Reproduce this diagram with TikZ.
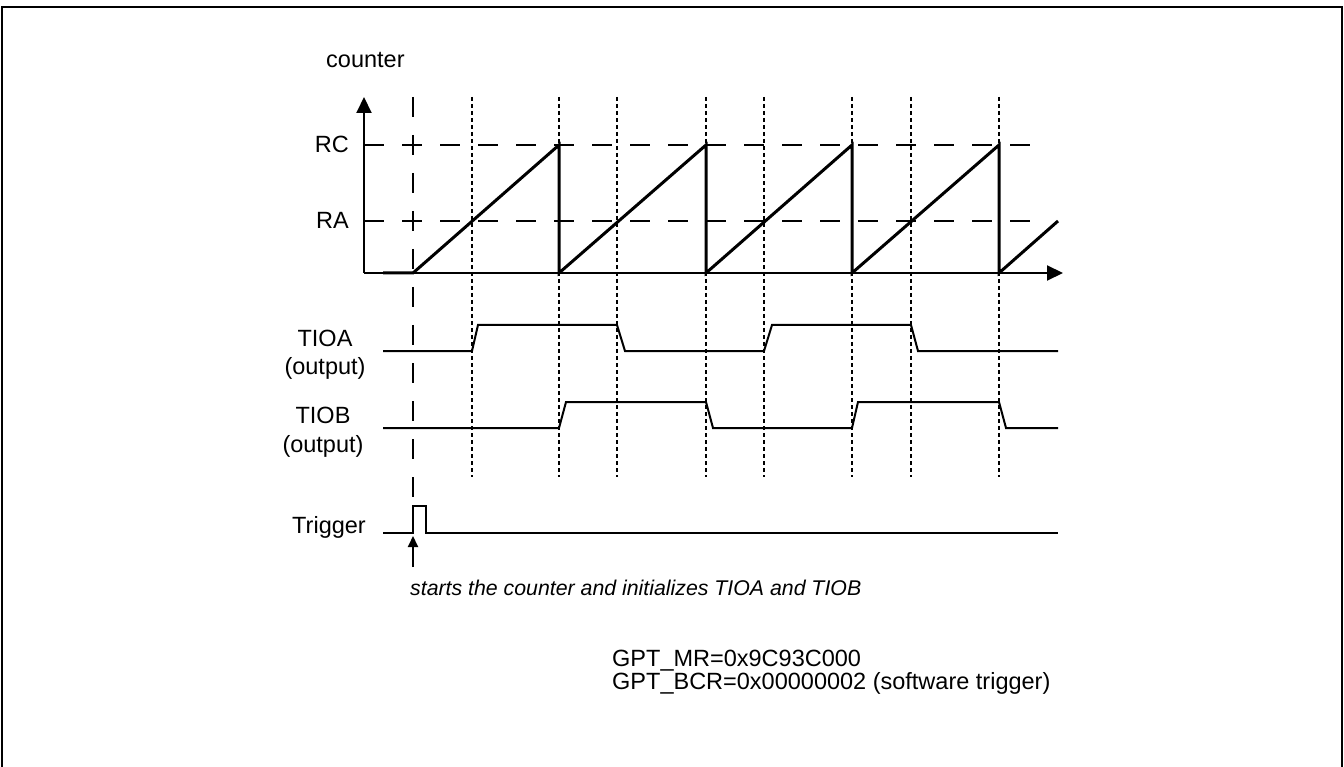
\documentclass[tikz,border=0pt]{standalone}
\usepackage{fontspec}
\setmainfont{Liberation Sans}
\usetikzlibrary{arrows.meta}
\tikzset{
  lbl/.style={inner sep=0pt, font=\fontsize{23.5}{23}\selectfont},
  notelbl/.style={inner sep=0pt, font=\fontsize{21.3}{23}\selectfont\itshape},
  ramp/.style={line width=3pt, line join=miter},
  axis/.style={line width=2pt},
  sig/.style={line width=2pt, line join=miter},
  longdash/.style={line width=1.6pt, dash pattern=on 20pt off 18pt},
  shortdot/.style={line width=1.5pt, dash pattern=on 4pt off 3pt},
  frame/.style={line width=2pt}
}
\begin{document}
\begin{tikzpicture}[x=1pt,y=-1pt]
\useasboundingbox (0,0) rectangle (1344,767);
% frame
\draw[frame] (2,767) -- (2,7) -- (1342,7) -- (1342,767);

% key coordinates
\coordinate (O) at (364,273);
\coordinate (ytop) at (364,97);
\coordinate (xend) at (1063,273);

% dotted event lines
\foreach \x/\n in {472/a1,559/b1,617/a2,706/b2,764/a3,852/b3,911/a4,999/b4}{
  \coordinate (dt\n) at (\x,97);
  \coordinate (db\n) at (\x,477);
  \draw[shortdot] (dt\n) -- (db\n);
}

% trigger dashed line
\coordinate (trigtop) at (413,97);
\coordinate (trigbot) at (413,506);
\draw[longdash] (trigtop) -- (trigbot);

% RC / RA levels
\coordinate (rcL) at (364,145); \coordinate (rcR) at (1048,145);
\coordinate (raL) at (364,221); \coordinate (raR) at (1048,221);
\draw[longdash] (rcL) -- (rcR);
\draw[longdash] (raL) -- (raR);

% axes
\draw[axis,-{Triangle[length=16pt,width=15pt]}] (O) -- (ytop);
\draw[axis,-{Triangle[length=16pt,width=15pt]}] (O) -- (xend);

% counter ramp
\draw[ramp] (383,273) -- (413,273) -- (559,145) -- (559,273) -- (706,145) -- (706,273)
  -- (852,145) -- (852,273) -- (999,145) -- (999,273) -- (1058,221);

% TIOA
\draw[sig] (383,351) -- (472,351) -- (478,325) -- (617,325) -- (625,351) -- (764,351)
  -- (772,325) -- (911,325) -- (918,351) -- (1058,351);
% TIOB
\draw[sig] (383,428) -- (559,428) -- (566,402) -- (706,402) -- (713,428) -- (852,428)
  -- (858,402) -- (999,402) -- (1006,428) -- (1058,428);
% Trigger
\coordinate (trigedge) at (413,536);
\draw[sig] (383,533) -- (413,533) -- (413,506) -- (426,506) -- (426,533) -- (1058,533);
\coordinate (arrtail) at (413,567);
\draw[line width=2pt,-{Triangle[length=11pt,width=10pt]}] (arrtail) -- (trigedge);

% labels
\node[lbl,anchor=base west] (counter) at (326,68) {counter};
\node[lbl,anchor=base east] (rc) at (349,153) {RC};
\node[lbl,anchor=base east] (ra) at (349,229) {RA};
\node[lbl,anchor=base] (tioa) at (325,346) {TIOA};
\node[lbl,anchor=base] (tioaout) at (325,374) {(output)};
\node[lbl,anchor=base] (tiob) at (323,423) {TIOB};
\node[lbl,anchor=base] (tiobout) at (323,452) {(output)};
\node[lbl,anchor=base east] (trig) at (366,533) {Trigger};
\node[notelbl,anchor=base west] (note) at (410,595)
  {starts the counter and initializes TIOA and TIOB};
\node[lbl,anchor=base west] (mr) at (612,666) {GPT\_MR=0x9C93C000};
\node[lbl,anchor=base west] (bcr) at (612,689) {GPT\_BCR=0x00000002 (software trigger)};
\end{tikzpicture}
\end{document}
